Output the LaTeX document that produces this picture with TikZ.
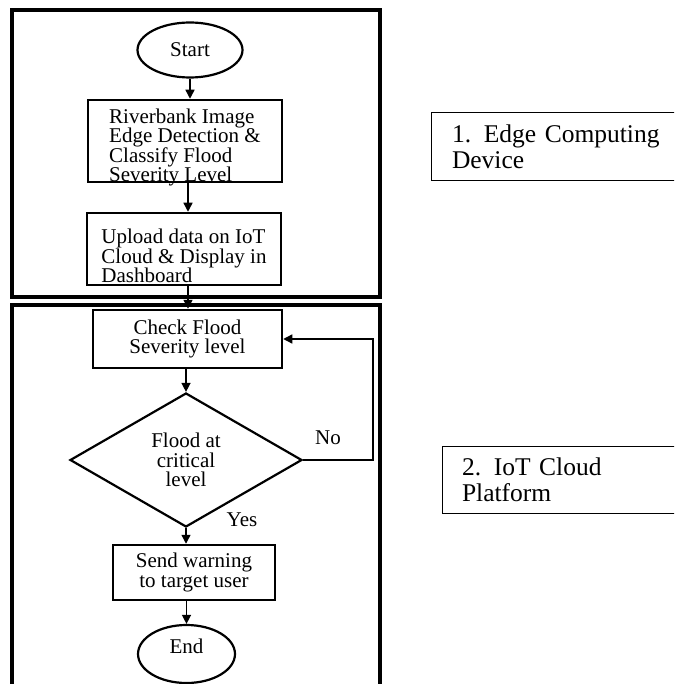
\documentclass[tikz,border=0pt]{standalone}
\usepackage{fontspec}
\setmainfont{Liberation Serif}
\usetikzlibrary{arrows.meta,shapes.geometric}

\begin{document}
\begin{tikzpicture}[x=1pt,y=-1pt,>={Triangle[length=9pt,width=9pt]},
                    line width=1.4pt]
  \tikzstyle{every node}=[font=\fontsize{21}{19.5}\selectfont]
  \tikzstyle{frame}=[draw,line width=3.5pt]
  \tikzstyle{term}=[ellipse,draw,line width=2.2pt,inner sep=0pt]
  \tikzstyle{proc}=[rectangle,draw,line width=2.5pt,inner sep=0pt,align=center]
  \tikzstyle{decision}=[diamond,draw,line width=2.2pt,inner sep=0pt,align=center,
                        minimum width=232pt,minimum height=134pt]
  \tikzstyle{tag}=[rectangle,draw,line width=1pt,inner sep=0pt,align=left,
                   font=\fontsize{25.5}{26}\selectfont]

  \useasboundingbox (0,0) rectangle (674,684);
  \clip (0,0) rectangle (674,684);

  % the two stages
  \draw[frame] (12,10) rectangle (380,297);
  \draw[frame] (12,305) rectangle (380,700);

  \node[term,minimum width=105pt,minimum height=55pt] (start) at (190,50) {Start};
  \node[proc,minimum width=194pt,minimum height=82pt,align=left,
        text height=82pt,text depth=0pt]
        (img) at (185,141) {Riverbank Image\\Edge Detection \&\\Classify Flood\\Severity Level};
  \node[proc,minimum width=194pt,minimum height=72pt,align=left,
        text height=67pt,text depth=0pt]
        (upl) at (184,249) {Upload data on IoT\\Cloud \& Display in\\Dashboard};

  \node[proc,minimum width=189pt,minimum height=58pt] (chk) at (187.5,339) {Check Flood\\Severity level};
  \node[decision] (crit) at (186,460) {Flood at\\critical\\level};
  \node[proc,minimum width=162pt,minimum height=55pt] (warn) at (194,572.5) {Send warning\\to target user};
  \node[term,minimum width=97pt,minimum height=58pt,text depth=16pt] (stop) at (186.5,654) {End};

  \node (no)  at (328,438) {No};
  \node (yes) at (242,520) {Yes};
  \coordinate (loop) at (373,460);

  % stage labels
  \node[tag,minimum width=269pt,minimum height=68pt,text width=227pt]
        (lab1) at (565.5,147) {1. Edge Computing\\Device};
  \node[tag,minimum width=269pt,minimum height=67pt,text width=229pt]
        (lab2) at (576.5,479.5) {2. IoT Cloud\\Platform};

  \path[->] (start.south) edge (start.south |- img.north)
        ([xshift=3pt]img.south) edge ([xshift=3pt]img.south |- upl.north)
        ([xshift=4pt]upl.south) edge ([xshift=4pt]upl.south |- chk.north)
        (crit.north |- chk.south) edge (crit.north)
        (crit.south) edge (crit.south |- warn.north)
        (stop.north |- warn.south) edge (stop.north);
  \draw[->] (crit.east) -- (loop) -- (loop |- chk.east) -- (chk.east);
\end{tikzpicture}
\end{document}
